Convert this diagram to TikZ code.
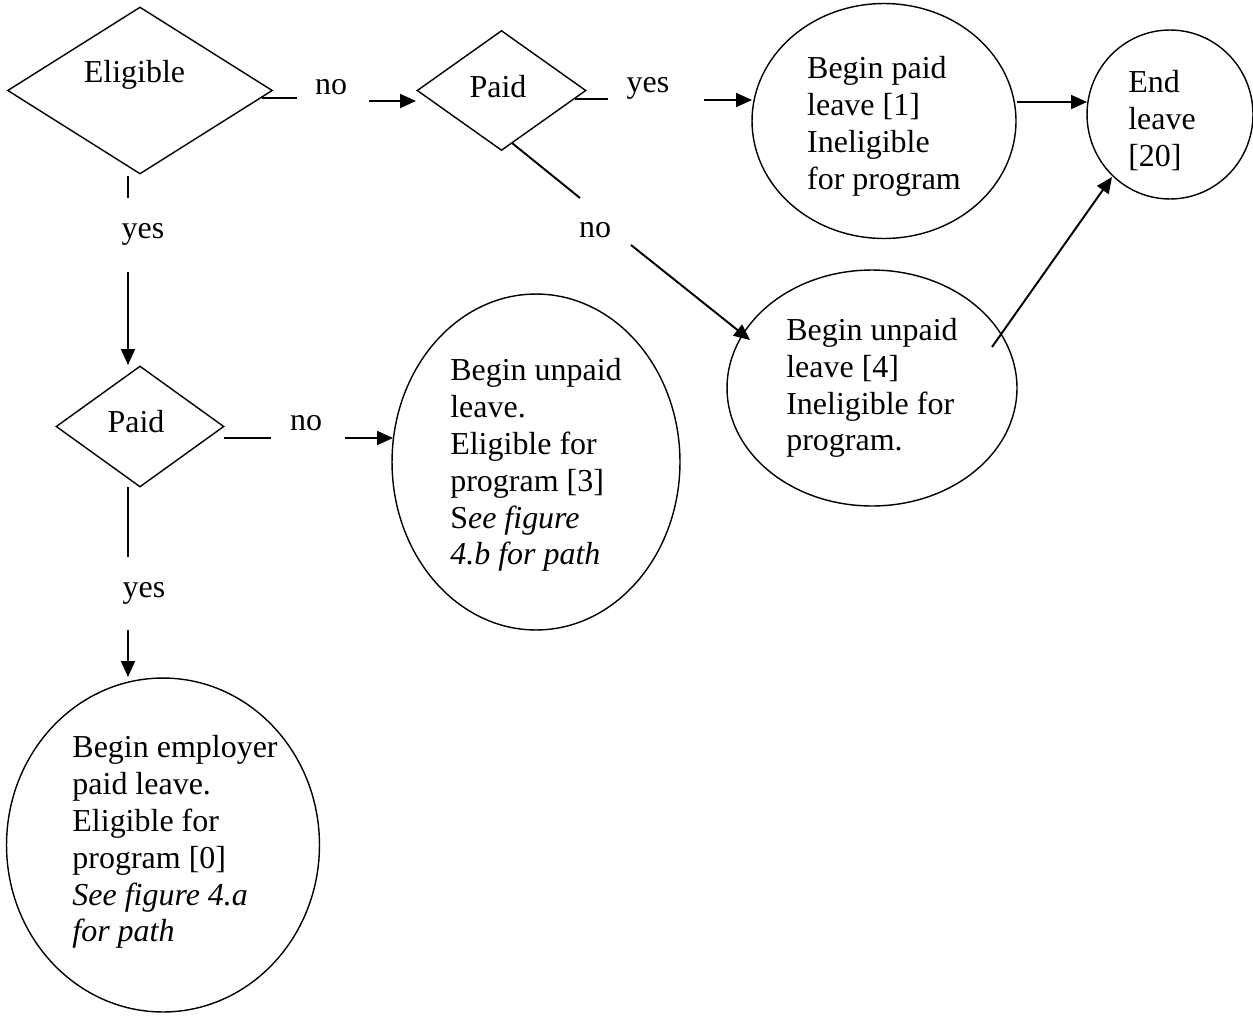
\documentclass[tikz,border=0pt]{standalone}
\usepackage{fontspec}
\setmainfont{Liberation Serif}
\usetikzlibrary{shapes.geometric,arrows.meta}
\begin{document}
\begin{tikzpicture}[x=0.02cm,y=-0.02cm,
  txt/.style={font=\fontsize{18.2}{21}\selectfont},
  dia/.style={draw,diamond,line width=0.8pt,inner sep=0pt},
  ell/.style={draw,ellipse,line width=0.8pt,inner sep=0pt,txt,align=left},
  ln/.style={line width=1.1pt},
  arr/.style={line width=1.1pt,-{Triangle[length=0.32cm,width=0.28cm]}},
  lab/.style={txt,anchor=base,inner sep=0pt}]
\useasboundingbox (0,0) rectangle (1253,1017);

% decision nodes
\node[dia,minimum width=5.3cm,minimum height=3.34cm,
  label={[txt,xshift=-0.11cm,yshift=0.31cm]center:Eligible}] (elig) at (140,90.5) {};
\node[dia,minimum width=3.38cm,minimum height=2.4cm,
  label={[txt,xshift=-0.07cm,yshift=0.08cm]center:Paid}] (paidA) at (501.5,90.5) {};
\node[dia,minimum width=3.36cm,minimum height=2.42cm,
  label={[txt,xshift=-0.08cm,yshift=0.09cm]center:Paid}] (paidB) at (140,426.5) {};

% state nodes
\node[ell,minimum width=5.28cm,minimum height=4.7cm,
  label={[txt,align=left,yshift=-0.11cm]center:{Begin paid\\leave [1]\\Ineligible\\for program}}] (bpaid) at (884,121) {};
\node[ell,minimum width=3.32cm,minimum height=3.38cm,
  label={[txt,align=left,xshift=-0.16cm,yshift=-0.12cm]center:{End\\leave\\{[20]}}}] (endl) at (1170,114.5) {};
\node[ell,minimum width=5.8cm,minimum height=4.72cm] (bunpaidA) at (872,388)
  {Begin unpaid\\leave [4]\\Ineligible for\\program.};
\node[ell,minimum width=5.76cm,minimum height=6.72cm,
  label={[txt,align=left,yshift=-0.06cm]center:{Begin unpaid\\leave.\\Eligible for\\program [3]\\S\textit{ee figure}\\\textit{4.b for path}}}] (bunpaidB) at (536,462) {};
\node[ell,minimum width=6.26cm,minimum height=6.68cm,
  label={[txt,align=left,xshift=0.24cm,yshift=0.06cm]center:{Begin employer\\paid leave.\\Eligible for\\program [0]\\\textit{See figure 4.a}\\\textit{for path}}}] (bemp) at (163,845) {};

% connector end points
\coordinate (c1a) at (262,98);  \coordinate (c1b) at (297,98);
\coordinate (c1c) at (369,101); \coordinate (c1d) at (416,101);
\coordinate (c2a) at (128,176); \coordinate (c2b) at (128,198);
\coordinate (c2c) at (128,272); \coordinate (c2d) at (128,365);
\coordinate (c3a) at (575,99);  \coordinate (c3b) at (608,99);
\coordinate (c3c) at (704,100); \coordinate (c3d) at (752,100);
\coordinate (c4a) at (512,143); \coordinate (c4b) at (580,198);
\coordinate (c4c) at (631,245); \coordinate (c4d) at (750,340);
\coordinate (c5a) at (1017,102); \coordinate (c5b) at (1087,102);
\coordinate (c6a) at (992,347); \coordinate (c6b) at (1112,177);
\coordinate (c7a) at (224,438); \coordinate (c7b) at (271,438);
\coordinate (c7c) at (345,438); \coordinate (c7d) at (393,438);
\coordinate (c8a) at (128,487); \coordinate (c8b) at (128,557);
\coordinate (c8c) at (128,630); \coordinate (c8d) at (128,677);

% connectors
\draw[ln] (c1a) -- (c1b);  \draw[arr] (c1c) -- (c1d);
\draw[ln] (c2a) -- (c2b);  \draw[arr] (c2c) -- (c2d);
\draw[ln] (c3a) -- (c3b);  \draw[arr] (c3c) -- (c3d);
\draw[ln] (c4a) -- (c4b);  \draw[arr] (c4c) -- (c4d);
\draw[arr] (c5a) -- (c5b);
\draw[arr] (c6a) -- (c6b);
\draw[ln] (c7a) -- (c7b);  \draw[arr] (c7c) -- (c7d);
\draw[ln] (c8a) -- (c8b);  \draw[arr] (c8c) -- (c8d);

% connector labels
\node[lab] (l1) at (331,94) {no};
\node[lab] (l2) at (143,238) {yes};
\node[lab] (l3) at (648,92) {yes};
\node[lab] (l4) at (595,237) {no};
\node[lab] (l7) at (306,430) {no};
\node[lab] (l8) at (144,597) {yes};
\end{tikzpicture}
\end{document}
